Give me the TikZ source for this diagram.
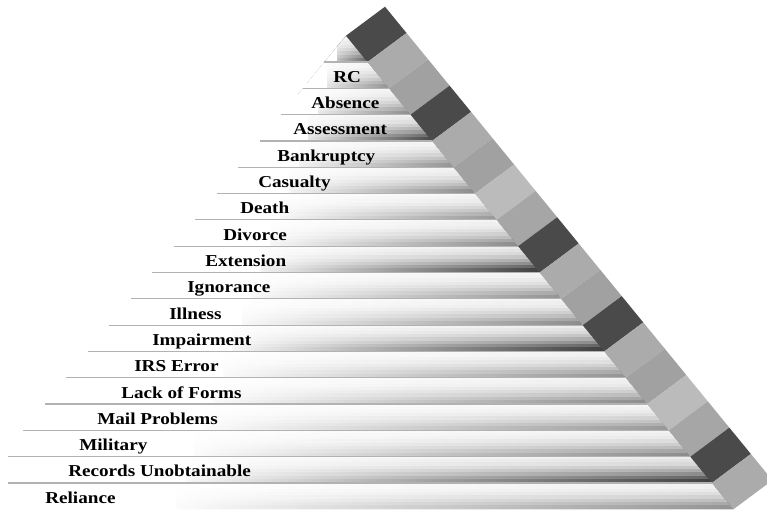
\documentclass[tikz,border=0pt]{standalone}
\usepackage{fontspec}
\setmainfont{Liberation Serif}[FakeStretch=1.15]

\definecolor{sqdark}{HTML}{4A4A4A}
\definecolor{sqa}{HTML}{ABABAB}
\definecolor{sqb}{HTML}{A1A1A1}
\definecolor{sqc}{HTML}{BBBBBB}
\definecolor{sqd}{HTML}{A6A6A6}

\begin{document}
\begin{tikzpicture}[x=0.75pt, y=0.75pt,
  rowlabel/.style={anchor=base west, inner sep=0pt, text=black,
                   font=\fontsize{12.5}{15}\selectfont\bfseries},
  sepline/.style={draw=gray!60, line width=0.9pt},
]
  \useasboundingbox (0,0) rectangle (767,512);
  % layers of the pyramid with the tiles along the slope
  \begin{scope}
    \clip (8,0) rectangle (767,512);
    \foreach \i/\sq/\shd in {0/sqdark/60, 1/sqa/42, 2/sqb/45, 3/sqdark/72,
        4/sqa/42, 5/sqb/45, 6/sqc/40, 7/sqd/45, 8/sqdark/75, 9/sqa/42,
        10/sqb/45, 11/sqdark/75, 12/sqa/42, 13/sqb/45, 14/sqc/40,
        15/sqd/45, 16/sqdark/75, 17/sqa/42} {
      \pgfmathsetmacro\ya{476.3-\i*26.31}
      \pgfmathsetmacro\yb{\ya-26.31}
      \pgfmathsetmacro\la{346-0.818*(476.3-\ya)}
      \pgfmathsetmacro\lb{346-0.818*(476.3-\yb)}
      \pgfmathsetmacro\ra{346+0.818*(476.3-\ya)}
      \pgfmathsetmacro\rb{346+0.818*(476.3-\yb)}
      \pgfmathsetmacro\xs{\lb+0.28*(\rb-\lb)}
      \begin{scope}
        \clip (\la,\ya) -- (\ra,\ya) -- (\rb,\yb) -- (\lb,\yb) -- cycle;
        % light on top, darker towards the bottom and the right
        \foreach \j/\f in {0/0.12, 1/0.16, 2/0.22, 3/0.32, 4/0.46, 5/0.62,
                           6/0.82, 7/1.0} {
          \pgfmathtruncatemacro\kr{\shd*\f}
          \fill[left color=white, right color=black!\kr]
            (\xs-20,{\ya-\j*3.289+0.3}) rectangle (\rb,{\ya-(\j+1)*3.289});
        }
        \fill[white] (\lb-5,\ya+1) rectangle (\xs,\yb-1);
      \end{scope}
      \ifnum\i>0
        \draw[sepline] (\la,\ya) -- (\ra,\ya);
      \fi
      \fill[\sq] (\ra,\ya) -- (\ra+39,\ya+29) -- (\rb+39,\yb+29) -- (\rb,\yb) -- cycle;
    }
  \end{scope}
  % labels, one per layer
  \foreach \lab/\lx [count=\i] in {RC/333, Absence/311, Assessment/293,
      Bankruptcy/277, Casualty/258, Death/240, Divorce/223, Extension/205,
      Ignorance/187, Illness/169, Impairment/152, IRS Error/134,
      Lack of Forms/121, Mail Problems/97, Military/79,
      Records Unobtainable/68, Reliance/45}
    \node[rowlabel] (lab\i) at (\lx,{482.3-(\i+1)*26.31}) {\lab};
\end{tikzpicture}
\end{document}
